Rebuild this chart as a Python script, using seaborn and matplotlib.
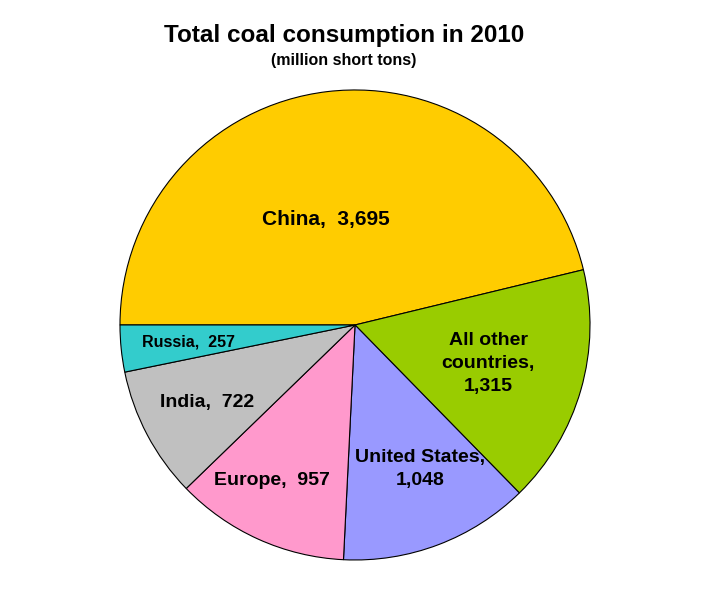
import numpy as np
import matplotlib
matplotlib.use("Agg")
import matplotlib.pyplot as plt
import seaborn as sns

# Data (million short tons)
countries = ["China", "All other\ncountries", "United States", "Europe", "India", "Russia"]
consumption = [3695, 1315, 1048, 957, 722, 257]
slice_colors = ["#FFCC00", "#99CC00", "#9999FF", "#FF99CC", "#C0C0C0", "#33CCCC"]

# label placement (fraction of radius along mid-angle, plus small nudges), size
label_dist = [0.46, 0.59, 0.66, 0.74, 0.71, 0.71]
label_nudge = [(-0.068, -0.009), (0, 0), (0.043, 0.004), (-0.047, 0.013), (0, 0), (0, 0)]
label_size = [15, 14, 14, 14, 14, 11.5]
label_sep = [",  ", ",\n", ",\n", ",  ", ",  ", ",  "]

sns.set_theme(style="white")
plt.rcParams["font.family"] = ["Liberation Sans", "DejaVu Sans"]
plt.rcParams["text.color"] = "black"

fig = plt.figure(figsize=(7.05, 5.97), dpi=100)
ax = fig.add_axes([0.1702, 0.062, 0.6667, 0.7873])

palette = sns.color_palette(slice_colors)
wedges, _ = ax.pie(
    consumption,
    colors=palette,
    startangle=180,
    counterclock=False,
    radius=1,
    wedgeprops=dict(edgecolor="black", linewidth=0.8),
)

for w, name, val, d, (nx, ny), fs, sep in zip(wedges, countries, consumption, label_dist,
                                              label_nudge, label_size, label_sep):
    mid = np.deg2rad((w.theta1 + w.theta2) / 2)
    ax.text(d * np.cos(mid) + nx, d * np.sin(mid) + ny, f"{name}{sep}{val:,}",
            ha="center", va="center", fontsize=fs, fontweight="bold",
            linespacing=1.45, color="black")

ax.set_xlim(-1, 1)
ax.set_ylim(-1, 1)
ax.set_aspect("equal")
ax.axis("off")

fig.text(0.488, 0.941, "Total coal consumption in 2010", ha="center", va="center",
         fontsize=17.5, fontweight="bold", color="black")
fig.text(0.487, 0.899, "(million short tons)", ha="center", va="center",
         fontsize=11.5, fontweight="bold", color="black")

fig.savefig("out.png", dpi=100, facecolor="white")
